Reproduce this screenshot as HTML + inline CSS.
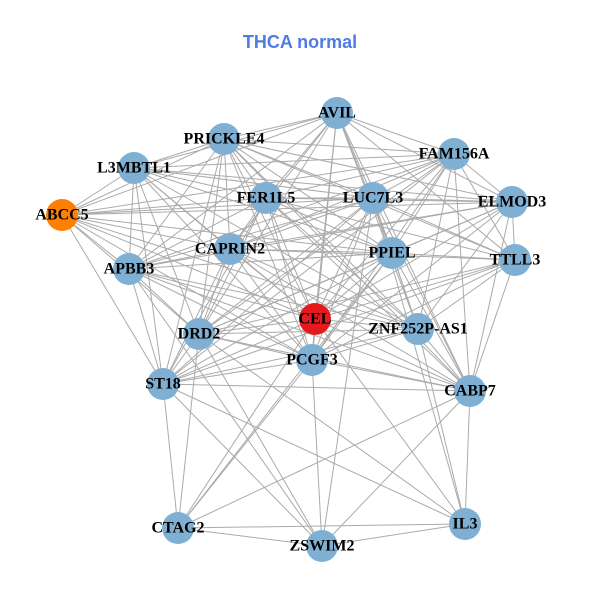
<!DOCTYPE html>
<html><head><meta charset="utf-8"><style>
html,body{margin:0;padding:0;background:#fff;width:600px;height:600px;overflow:hidden}
svg text.l{font-family:"Liberation Serif",serif;font-weight:bold;font-size:16px;fill:#000;text-anchor:middle;dominant-baseline:central}
</style></head><body>
<svg id="s" width="600" height="600" xmlns="http://www.w3.org/2000/svg">
<text x="300" y="48" style="font-family:'Liberation Sans',sans-serif;font-weight:bold;font-size:18px;fill:#4F7BE8" text-anchor="middle">THCA normal</text>
<g id="e" stroke="#aaa" stroke-width="1"></g>
<g id="n"></g>
<g>
<text class="l" x="337" y="113">AVIL</text>
<text class="l" x="224" y="139">PRICKLE4</text>
<text class="l" x="454" y="154">FAM156A</text>
<text class="l" x="134" y="168">L3MBTL1</text>
<text class="l" x="266" y="198">FER1L5</text>
<text class="l" x="373" y="198">LUC7L3</text>
<text class="l" x="512" y="202">ELMOD3</text>
<text class="l" x="62" y="215">ABCC5</text>
<text class="l" x="230" y="249">CAPRIN2</text>
<text class="l" x="392" y="253">PPIEL</text>
<text class="l" x="515" y="260">TTLL3</text>
<text class="l" x="129" y="269">APBB3</text>
<text class="l" x="315" y="319">CEL</text>
<text class="l" x="418" y="329">ZNF252P-AS1</text>
<text class="l" x="199" y="334">DRD2</text>
<text class="l" x="312" y="360">PCGF3</text>
<text class="l" x="163" y="384">ST18</text>
<text class="l" x="470" y="391">CABP7</text>
<text class="l" x="178" y="528">CTAG2</text>
<text class="l" x="465" y="524">IL3</text>
<text class="l" x="322" y="546">ZSWIM2</text>
</g>
</svg>
<script>
(function(){
var N={AVIL:[337,113],PR:[224,139],FAM:[454,154],L3:[134,168],FER:[266,198],LUC:[373,198],ELM:[512,202],ABC:[62,215],CAP:[230,249],PPI:[392,253],TTL:[515,260],APB:[129,269],CEL:[315,319],ZNF:[418,329],DRD:[199,334],PCG:[312,360],ST:[163,384],CAB:[470,391],CTA:[178,528],IL3:[465,524],ZSW:[322,546]};
var T=["AVIL","PR","FAM","L3","FER","LUC","ELM","ABC","CAP","PPI","TTL","APB","CEL","ZNF","DRD","PCG","ST","CAB"];
var skip={"ABC-TTL":1,"ABC-ELM":1,"L3-TTL":1,"ABC-CAB":1,"ELM-ST":1,"L3-CAB":1,"AVIL-ST":1,"TTL-APB":1};
var E=[];
for(var i=0;i<T.length;i++)for(var j=i+1;j<T.length;j++){var k=T[i]+"-"+T[j];if(!skip[k])E.push([T[i],T[j]]);}
E=E.concat([["CTA","ST"],["CTA","ZSW"],["CTA","IL3"],["CTA","DRD"],["CTA","PCG"],["CTA","CAB"],["CTA","PPI"],["CTA","CEL"],["ZSW","ST"],["ZSW","IL3"],["ZSW","PCG"],["ZSW","CAB"],["ZSW","APB"],["ZSW","LUC"],["ZSW","DRD"],["IL3","ST"],["IL3","CAB"],["IL3","DRD"],["IL3","ZNF"],["IL3","CEL"],["IL3","LUC"]]);
var eg=document.getElementById("e"),ng=document.getElementById("n"),ns="http://www.w3.org/2000/svg";
E.forEach(function(p){var a=N[p[0]],b=N[p[1]],l=document.createElementNS(ns,"line");l.setAttribute("x1",a[0]);l.setAttribute("y1",a[1]);l.setAttribute("x2",b[0]);l.setAttribute("y2",b[1]);eg.appendChild(l);});
for(var key in N){var c=document.createElementNS(ns,"circle");c.setAttribute("cx",N[key][0]);c.setAttribute("cy",N[key][1]);c.setAttribute("r",16);c.setAttribute("fill",key=="ABC"?"#FF7F00":key=="CEL"?"#E41A1C":"#7FB0D3");ng.appendChild(c);}
})();
</script>
</body></html>
